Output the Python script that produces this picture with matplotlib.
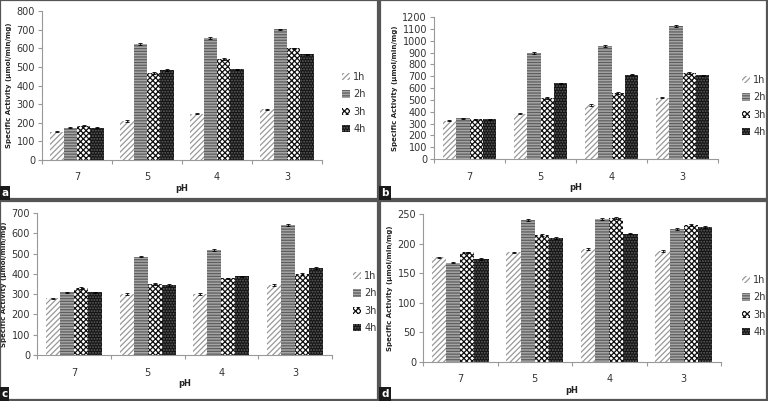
import numpy as np
import matplotlib
matplotlib.use('Agg')
import matplotlib.pyplot as plt
from matplotlib.patches import Rectangle

# Data
ph = ['7', '5', '4', '3']
hours = ['1h', '2h', '3h', '4h']

a_vals = [[152, 211, 249, 272],
          [173, 625, 655, 702],
          [185, 465, 542, 600],
          [173, 485, 487, 567]]
b_vals = [[325, 383, 455, 518],
          [345, 897, 955, 1125],
          [336, 517, 557, 725],
          [336, 639, 712, 706]]
c_vals = [[280, 300, 300, 345],
          [310, 485, 518, 642],
          [330, 350, 378, 400],
          [310, 345, 387, 430]]
d_vals = [[177, 185, 191, 188],
          [168, 240, 242, 225],
          [185, 214, 243, 232],
          [174, 210, 217, 228]]

a_err = [2, 5, 4, 4]
b_err = [4, 6, 6, 6]
c_err = [3, 4, 4, 4]
d_err = [1, 1.5, 1.5, 1.5]

W, H = 768, 401
fig = plt.figure(figsize=(W/100, H/100), dpi=100)
fig.patch.set_facecolor('white')

styles = [dict(facecolor='white', edgecolor='#999999', hatch='//////'),
          dict(facecolor='#a5a5a5', edgecolor='#5e5e5e', hatch='------'),
          dict(facecolor='white', edgecolor='#101010', hatch='xxxxxx'),
          dict(facecolor='#141414', edgecolor='#606060', hatch='......')]

plt.rcParams['hatch.linewidth'] = 0.9

def px_axes(l, r, t, b):
    return fig.add_axes([l/W, 1-b/H, (r-l)/W, (b-t)/H])

def panel(box, axbox, vals, errs, ymax, ystep, leg_xy, letter):
    # panel frame
    x0, y0, x1, y1 = box
    fig.patches.append(Rectangle((x0/W, 1-y1/H), (x1-x0)/W, (y1-y0)/H,
                                 transform=fig.transFigure, fill=False,
                                 edgecolor='#555555', linewidth=1.6))
    ax = px_axes(*axbox)
    x = np.arange(len(ph))
    w = 0.19
    for i, h in enumerate(hours):
        ax.bar(x + (i-1.5)*w, vals[i], w, label=h, linewidth=0, **styles[i])
        ax.errorbar(x + (i-1.5)*w, vals[i], yerr=errs[i], fmt='none',
                    ecolor='black', elinewidth=0.6, capsize=1.5, capthick=0.6)
    ax.set_xlim(-0.5, 3.5)
    ax.set_ylim(0, ymax)
    ax.set_yticks(np.arange(0, ymax+1, ystep))
    ax.set_xticks(np.arange(-0.5, 4, 1))
    ax.set_xticklabels([])
    ax.set_xticks(x, minor=True)
    ax.set_xticklabels(ph, minor=True)
    ax.tick_params(axis='x', which='minor', length=0, pad=9, labelsize=7, colors='#333333')
    ax.tick_params(axis='x', which='major', length=3, color='#999999')
    ax.tick_params(axis='y', length=3, color='#999999', labelsize=7, colors='#333333', pad=2)
    for s in ['top', 'right']:
        ax.spines[s].set_visible(False)
    for s in ['left', 'bottom']:
        ax.spines[s].set_color('#999999')
        ax.spines[s].set_linewidth(0.8)
    ax.set_xlabel('pH', fontsize=6, fontweight='bold', labelpad=1, color='#222222')
    ax.set_ylabel('Specific Activity (µmol/min/mg)', fontsize=5, fontweight='bold',
                  labelpad=3, color='#222222')
    lx, ly = leg_xy
    ax.legend(loc='center left', bbox_to_anchor=(lx/W, 1-ly/H),
              bbox_transform=fig.transFigure, frameon=False, fontsize=7,
              handlelength=0.8, handleheight=0.8, handletextpad=0.4,
              labelspacing=0.75, labelcolor='#333333')
    # panel letter
    fig.text((x0+1)/W, 1-(y1-1)/H, letter, fontsize=7.5, fontweight='bold',
             color='white', ha='left', va='bottom',
             bbox=dict(boxstyle='square,pad=0.2', facecolor='#1a1a1a', edgecolor='none'))
    return ax

panel((0, 0, 378, 199), (42, 322, 11, 160), a_vals, [a_err]*4, 800, 100, (333, 103), 'a')
panel((380, 0, 767, 199), (434, 718, 17, 159), b_vals, [b_err]*4, 1200, 100, (733, 106), 'b')
panel((0, 201, 378, 400), (37, 332, 213, 355), c_vals, [c_err]*4, 700, 100, (344, 302), 'c')
panel((380, 201, 767, 400), (423, 721, 214, 362), d_vals, [d_err]*4, 250, 50, (733, 306), 'd')

plt.savefig('out.png', dpi=100)
